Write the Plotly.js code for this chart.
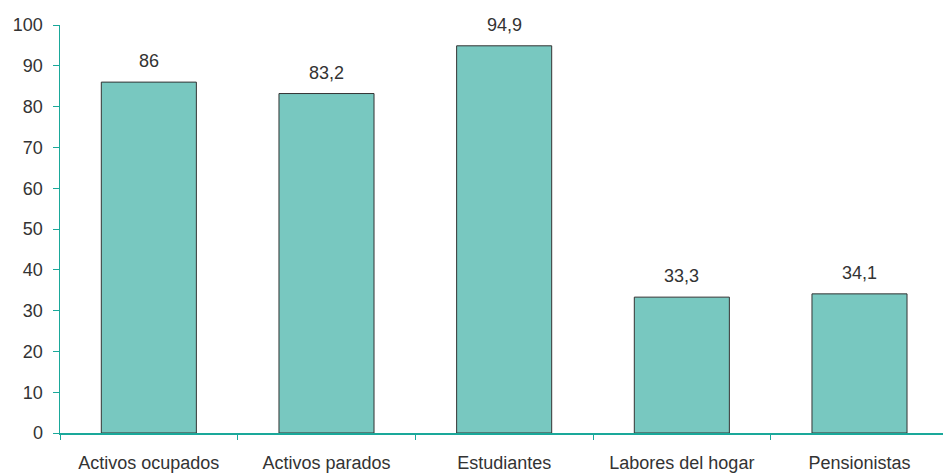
<!DOCTYPE html>
<html>
<head>
<meta charset="utf-8">
<script src="https://cdn.plot.ly/plotly-3.0.1.min.js"></script>
<style>html,body{margin:0;padding:0;background:#fff}#chart{width:943px;height:475px}</style>
</head>
<body>
<div id="chart"></div>
<script>
const categories = ["Activos ocupados", "Activos parados", "Estudiantes", "Labores del hogar", "Pensionistas"];
const values = [86, 83.2, 94.9, 33.3, 34.1];
const yTicks = [0, 10, 20, 30, 40, 50, 60, 70, 80, 90, 100];

const fmt = v => String(v).replace('.', ',');
const font = {family: "Liberation Sans, Arial, sans-serif", size: 18, color: "#333333"};
const axisColor = "#1aa89a";

const trace = {
  type: "bar",
  x: categories,
  y: values,
  marker: {color: "#78c8c0", line: {color: "#333333", width: 1}},
  hoverinfo: "none"
};

const annotations = categories.map((c, i) => ({
  x: c, y: values[i], xref: "x", yref: "y",
  text: fmt(values[i]), showarrow: false,
  yanchor: "bottom", yshift: 9, font: font
}));

const layout = {
  width: 943, height: 475,
  margin: {l: 60, r: 0, t: 25, b: 42},
  paper_bgcolor: "#fff", plot_bgcolor: "#fff",
  font: font,
  bargap: 0.465,
  showlegend: false,
  xaxis: {
    type: "category",
    range: [-0.5, 4.47],
    showline: true, linecolor: axisColor, linewidth: 1.5,
    ticks: "outside", tickson: "boundaries", ticklen: 5, tickcolor: axisColor, tickwidth: 1,
    showgrid: false, zeroline: false,
    ticklabelstandoff: 13,
    tickfont: font
  },
  yaxis: {
    range: [0, 100],
    tickvals: yTicks,
    ticktext: yTicks.map(String),
    showline: true, linecolor: axisColor, linewidth: 1.5,
    ticks: "outside", ticklen: 6, tickcolor: axisColor, tickwidth: 1,
    showgrid: false, zeroline: false,
    ticklabelstandoff: 6,
    tickfont: font
  },
  annotations: annotations
};

Plotly.newPlot("chart", [trace], layout, {staticPlot: true});
</script>
</body>
</html>
